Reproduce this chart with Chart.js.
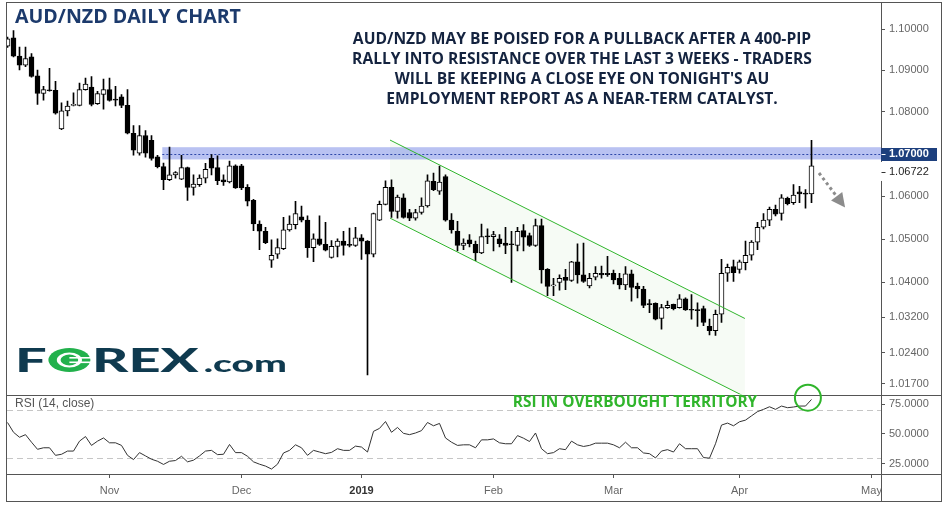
<!DOCTYPE html>
<html>
<head>
<meta charset="utf-8">
<title>AUD/NZD Daily Chart</title>
<script src="https://cdn.jsdelivr.net/npm/chart.js@4.4.1/dist/chart.umd.min.js"></script>
<style>
  html, body { margin: 0; padding: 0; background: #ffffff; }
  canvas { display: block; }
</style>
</head>
<body>
<canvas id="chart" width="944" height="506"></canvas>
<script>
// daily bars from 9 Oct 2018 (index 0) to 17 Apr 2019 (index 134), weekdays only
const open = [
  1.09580, 1.09785, 1.09341, 1.09126, 1.09324, 1.08866, 1.08441, 1.08531, 1.08519, 1.07595,
  1.08024, 1.08158, 1.08158, 1.08535, 1.08597, 1.08196, 1.08418, 1.08535, 1.08300, 1.08361,
  1.08158, 1.07492, 1.07016, 1.07438, 1.07321, 1.06931, 1.06699, 1.06391, 1.06507, 1.06407,
  1.06676, 1.06213, 1.06275, 1.06431, 1.06894, 1.06676, 1.06391, 1.06338, 1.06722, 1.06722,
  1.06213, 1.05906, 1.05354, 1.05186, 1.04515, 1.04651, 1.04781, 1.05216, 1.05338, 1.05522,
  1.05446, 1.04804, 1.05009, 1.04879, 1.04576, 1.04834, 1.04957, 1.04866, 1.04856, 1.05032,
  1.04957, 1.04651, 1.05446, 1.05814, 1.06213, 1.05646, 1.05968, 1.05623, 1.05492, 1.05623,
  1.05775, 1.06352, 1.06120, 1.06468, 1.05446, 1.05186, 1.04856, 1.04986, 1.04879, 1.04683,
  1.05062, 1.05062, 1.05009, 1.04911, 1.04879, 1.04856, 1.05200, 1.05085, 1.04856, 1.05315,
  1.04303, 1.03923, 1.04000, 1.04121, 1.04046, 1.04478, 1.04173, 1.03923, 1.04121, 1.04212,
  1.04212, 1.04212, 1.04098, 1.03946, 1.04196, 1.03910, 1.03849, 1.03496, 1.03518, 1.03173,
  1.03421, 1.03496, 1.03421, 1.03624, 1.03369, 1.03362, 1.03399, 1.02993, 1.02897, 1.03270,
  1.04212, 1.04364, 1.04303, 1.04456, 1.04629, 1.04934, 1.05278, 1.05446, 1.05699, 1.05600,
  1.05952, 1.05853, 1.06106, 1.06060, 1.06060
];
const high = [
  1.09802, 1.09962, 1.09563, 1.09563, 1.09403, 1.09007, 1.08613, 1.09045, 1.08731, 1.08219,
  1.08260, 1.08455, 1.08691, 1.08809, 1.08849, 1.08495, 1.08785, 1.08809, 1.08613, 1.08418,
  1.08535, 1.07672, 1.07672, 1.07555, 1.07438, 1.06970, 1.06785, 1.07164, 1.06583, 1.06970,
  1.06690, 1.06507, 1.06507, 1.06778, 1.06986, 1.06954, 1.06507, 1.06831, 1.06740, 1.06755,
  1.06275, 1.05929, 1.05430, 1.05278, 1.04986, 1.05009, 1.05508, 1.05545, 1.05883, 1.05775,
  1.05545, 1.05124, 1.05545, 1.05393, 1.04970, 1.05009, 1.05186, 1.05262, 1.05278, 1.05108,
  1.04970, 1.05607, 1.05890, 1.06368, 1.06391, 1.06028, 1.06060, 1.05699, 1.05699, 1.05968,
  1.06507, 1.06546, 1.06715, 1.06507, 1.05600, 1.05416, 1.05009, 1.05108, 1.04957, 1.05354,
  1.05239, 1.05186, 1.05108, 1.05278, 1.05186, 1.05278, 1.05338, 1.05140, 1.05469, 1.05469,
  1.04320, 1.04098, 1.04173, 1.04303, 1.04490, 1.04895, 1.04911, 1.04212, 1.04364, 1.04378,
  1.04606, 1.04287, 1.04212, 1.04364, 1.04287, 1.03984, 1.03910, 1.03608, 1.03534, 1.03496,
  1.03572, 1.03504, 1.03721, 1.03646, 1.03721, 1.03534, 1.03460, 1.03158, 1.03369, 1.04531,
  1.04424, 1.04515, 1.04515, 1.04957, 1.04970, 1.05393, 1.05600, 1.05752, 1.05798, 1.06044,
  1.05982, 1.06275, 1.06236, 1.06160, 1.07321
];
const low = [
  1.09551, 1.09324, 1.09007, 1.09086, 1.08833, 1.08182, 1.08283, 1.08495, 1.07946, 1.07578,
  1.07906, 1.08142, 1.08142, 1.08520, 1.08142, 1.08182, 1.08064, 1.08260, 1.08142, 1.08102,
  1.07478, 1.06970, 1.06970, 1.06924, 1.06854, 1.06669, 1.06160, 1.06368, 1.06431, 1.06391,
  1.05906, 1.06028, 1.06236, 1.06315, 1.06507, 1.06275, 1.06259, 1.06315, 1.06185, 1.06160,
  1.05775, 1.05200, 1.04759, 1.04895, 1.04348, 1.04554, 1.04759, 1.05186, 1.05239, 1.05400,
  1.04576, 1.04478, 1.04856, 1.04729, 1.04560, 1.04592, 1.04629, 1.04820, 1.04834, 1.04531,
  1.01894, 1.04592, 1.05430, 1.05800, 1.05508, 1.05492, 1.05492, 1.05430, 1.05446, 1.05584,
  1.05745, 1.06137, 1.06044, 1.05423, 1.05140, 1.04729, 1.04759, 1.04820, 1.04501, 1.04667,
  1.04895, 1.04729, 1.04820, 1.04667, 1.04000, 1.04729, 1.04729, 1.04834, 1.04834, 1.03984,
  1.03698, 1.03698, 1.03820, 1.03833, 1.04023, 1.03984, 1.04000, 1.03872, 1.04059, 1.04098,
  1.04137, 1.03968, 1.03849, 1.03833, 1.03572, 1.03646, 1.03421, 1.03309, 1.03144, 1.02933,
  1.03405, 1.03369, 1.03410, 1.03360, 1.03158, 1.02993, 1.03009, 1.02799, 1.02786, 1.03083,
  1.04023, 1.04023, 1.04212, 1.04287, 1.04515, 1.04759, 1.05239, 1.05315, 1.05545, 1.05446,
  1.05798, 1.05814, 1.05853, 1.05722, 1.05853
];
const close = [
  1.09761, 1.09341, 1.09126, 1.09284, 1.08849, 1.08441, 1.08535, 1.08507, 1.07970, 1.08024,
  1.08142, 1.08172, 1.08535, 1.08668, 1.08182, 1.08441, 1.08535, 1.08276, 1.08283, 1.08158,
  1.07492, 1.07087, 1.07438, 1.07016, 1.06894, 1.06699, 1.06391, 1.06507, 1.06560, 1.06676,
  1.06213, 1.06292, 1.06431, 1.06639, 1.06662, 1.06368, 1.06338, 1.06722, 1.06199, 1.06199,
  1.05890, 1.05354, 1.05186, 1.04918, 1.04629, 1.04804, 1.05216, 1.05354, 1.05600, 1.05446,
  1.04804, 1.05009, 1.04879, 1.04743, 1.04834, 1.04957, 1.04856, 1.04856, 1.05032, 1.04957,
  1.04651, 1.05600, 1.05814, 1.06213, 1.05646, 1.05982, 1.05508, 1.05492, 1.05623, 1.05775,
  1.06368, 1.06160, 1.06338, 1.05446, 1.05216, 1.04856, 1.04911, 1.04895, 1.04683, 1.05062,
  1.05055, 1.05108, 1.04895, 1.04856, 1.04872, 1.05186, 1.05048, 1.04856, 1.05315, 1.04287,
  1.03910, 1.03930, 1.04098, 1.04046, 1.04478, 1.04173, 1.04023, 1.04098, 1.04212, 1.04173,
  1.04180, 1.04059, 1.03946, 1.04196, 1.03887, 1.03849, 1.03473, 1.03490, 1.03158, 1.03421,
  1.03473, 1.03399, 1.03624, 1.03369, 1.03362, 1.03355, 1.03083, 1.02897, 1.03270, 1.04212,
  1.04348, 1.04228, 1.04478, 1.04629, 1.04934, 1.05278, 1.05446, 1.05699, 1.05584, 1.05968,
  1.05830, 1.06028, 1.06060, 1.06053, 1.06722
];
// RSI (14, close)
const rsi = [
  59.7, 51.4, 47.2, 49.4, 43.0, 37.0, 38.3, 38.3, 31.9, 32.8,
  35.5, 35.5, 43.9, 47.8, 40.3, 43.9, 46.6, 42.5, 42.5, 40.3,
  31.9, 28.3, 34.2, 31.4, 28.6, 26.9, 24.2, 26.9, 27.5, 31.1,
  26.4, 27.8, 31.4, 35.5, 36.1, 32.5, 32.8, 41.1, 34.2, 34.2,
  31.1, 26.4, 24.4, 22.8, 20.3, 24.4, 33.9, 36.1, 40.8, 38.3,
  31.9, 36.1, 34.7, 33.3, 34.4, 37.5, 36.1, 36.1, 39.7, 38.9,
  34.7, 52.2, 54.7, 60.5, 51.4, 55.5, 50.5, 49.4, 50.8, 52.8,
  59.7, 56.9, 58.9, 46.6, 43.0, 40.3, 40.8, 40.8, 38.3, 45.0,
  45.0, 45.8, 42.5, 41.7, 41.7, 48.6, 46.4, 43.6, 50.8, 37.5,
  33.3, 34.2, 37.5, 36.7, 43.9, 40.8, 39.4, 40.3, 42.2, 42.2,
  42.2, 40.8, 38.3, 43.0, 38.3, 38.3, 33.9, 33.3, 29.7, 35.5,
  36.7, 34.7, 41.7, 37.5, 37.5, 37.5, 30.0, 29.5, 41.7, 57.5,
  59.2, 56.9, 60.3, 61.7, 65.3, 68.9, 70.8, 73.0, 70.8, 73.6,
  72.2, 72.8, 73.6, 73.6, 79.2
];

// bar index of the first session of each month
const monthStart = [17, 39, 59, 81, 101, 122, 144];
const monthNames = ['Nov', 'Dec', '2019', 'Feb', 'Mar', 'Apr', 'May'];

const priceTicks = [1.017, 1.024, 1.032, 1.04, 1.05, 1.06, 1.08, 1.09, 1.10];
const rsiTicks = [25, 50, 75];
const rsiGuides = [30, 70];

// drawings, in bar index / price units
const resistanceLevel = 1.07;
const resistanceBand = [1.0687, 1.0716];
const bandFrom = 25.8;
const channelX = [63.75, 122.9];
const channelTop = [1.0733, 1.03174];
const channelBottom = [1.05492, 1.01405];
const arrowFrom = [135.25, 1.0655];
const arrowTo = [139.6, 1.0574];
const rsiCircle = [133.4, 80.7];

const title = 'AUD/NZD DAILY CHART';
const note = [
  'AUD/NZD MAY BE POISED FOR A PULLBACK AFTER A 400-PIP',
  'RALLY INTO RESISTANCE OVER THE LAST 3 WEEKS - TRADERS',
  "WILL BE KEEPING A CLOSE EYE ON TONIGHT'S AU",
  'EMPLOYMENT REPORT AS A NEAR-TERM CATALYST.'
];
const rsiNote = 'RSI IN OVERBOUGHT TERRITORY';

const idx = close.map((_, i) => i);
const lastClose = close[close.length - 1];
const green = '#30b52c';
const axisFont = '"Liberation Sans", Arial, sans-serif';

function drawLogo(ctx) {
  const navy = '#0f3a4f', leaf = '#22b14c';
  const big = '900 33px Lato, "DejaVu Sans", sans-serif';
  const small = '900 23px Lato, "DejaVu Sans", sans-serif';
  ctx.font = big;
  const wF = ctx.measureText('F').width;
  const wO = ctx.measureText('O').width;
  const wR = ctx.measureText('REX').width;
  ctx.font = small;
  const wc = ctx.measureText('.com').width;
  const sx = 272 / (wF + wO + wR + 3 + wc);
  ctx.save();
  ctx.translate(15, 372);
  ctx.scale(sx, 1);
  ctx.textAlign = 'left';
  ctx.textBaseline = 'alphabetic';
  ctx.font = big;
  ctx.fillStyle = navy;
  ctx.fillText('F', 0, 0);
  // the green "O" with its plug
  const cx = wF + wO / 2, cy = -12, rx = wO / 2 - 1, ry = 12;
  ctx.fillStyle = leaf;
  ctx.beginPath(); ctx.ellipse(cx, cy, rx, ry, 0, 0, Math.PI * 2); ctx.fill();
  ctx.fillStyle = '#fff';
  ctx.beginPath(); ctx.ellipse(cx, cy, rx * 0.6, ry * 0.62, 0, 0, Math.PI * 2); ctx.fill();
  ctx.fillStyle = leaf;
  ctx.beginPath(); ctx.ellipse(cx, cy, rx * 0.42, ry * 0.45, 0, 0, Math.PI * 2); ctx.fill();
  ctx.fillStyle = '#fff';
  ctx.fillRect(cx, cy - 3, rx + 1, 1.6);
  ctx.fillRect(cx, cy + 1.5, rx + 1, 1.6);
  ctx.fillStyle = navy;
  ctx.fillText('REX', wF + wO, 0);
  ctx.font = small;
  ctx.fillText('.com', wF + wO + wR + 3, 0);
  ctx.restore();
}

const overlay = {
  id: 'overlay',
  beforeDatasetsDraw(chart) {
    const { ctx, chartArea: a, scales: { x, y, rsi: r } } = chart;
    ctx.save();
    // RSI 30 / 70 guides
    ctx.strokeStyle = '#c6c6c6';
    ctx.lineWidth = 1;
    ctx.setLineDash([6, 4]);
    rsiGuides.forEach(v => {
      const py = Math.round(r.getPixelForValue(v)) + 0.5;
      ctx.beginPath(); ctx.moveTo(a.left, py); ctx.lineTo(a.right, py); ctx.stroke();
    });
    ctx.setLineDash([]);
    // price panel only
    ctx.beginPath();
    ctx.rect(a.left, y.top, a.right - a.left, y.bottom - y.top);
    ctx.clip();
    // channel shading
    const x0 = x.getPixelForValue(channelX[0]), x1 = x.getPixelForValue(channelX[1]);
    ctx.fillStyle = 'rgba(100,180,80,0.06)';
    ctx.beginPath();
    ctx.moveTo(x0, y.getPixelForValue(channelTop[0]));
    ctx.lineTo(x1, y.getPixelForValue(channelTop[1]));
    ctx.lineTo(x1, y.getPixelForValue(channelBottom[1]));
    ctx.lineTo(x0, y.getPixelForValue(channelBottom[0]));
    ctx.closePath();
    ctx.fill();
    // resistance band
    const bx = x.getPixelForValue(bandFrom);
    const bt = y.getPixelForValue(resistanceBand[1]), bb = y.getPixelForValue(resistanceBand[0]);
    ctx.fillStyle = 'rgba(60,85,220,0.36)';
    ctx.fillRect(bx, bt, a.right - bx, bb - bt);
    const ly = Math.round(y.getPixelForValue(resistanceLevel)) + 0.5;
    ctx.strokeStyle = '#2d47a8';
    ctx.setLineDash([2, 2]);
    ctx.beginPath(); ctx.moveTo(bx, ly); ctx.lineTo(a.right, ly); ctx.stroke();
    ctx.restore();
  },
  afterDatasetsDraw(chart) {
    const { ctx, chartArea: a, scales: { x, y } } = chart;
    ctx.save();
    ctx.beginPath();
    ctx.rect(a.left, y.top, a.right - a.left, y.bottom - y.top);
    ctx.clip();
    // channel lines
    ctx.strokeStyle = green;
    ctx.lineWidth = 1;
    [channelTop, channelBottom].forEach(line => {
      ctx.beginPath();
      ctx.moveTo(x.getPixelForValue(channelX[0]), y.getPixelForValue(line[0]));
      ctx.lineTo(x.getPixelForValue(channelX[1]), y.getPixelForValue(line[1]));
      ctx.stroke();
    });
    // dotted arrow
    const ax0 = x.getPixelForValue(arrowFrom[0]), ay0 = y.getPixelForValue(arrowFrom[1]);
    const ax1 = x.getPixelForValue(arrowTo[0]), ay1 = y.getPixelForValue(arrowTo[1]);
    const len = Math.hypot(ax1 - ax0, ay1 - ay0);
    const ux = (ax1 - ax0) / len, uy = (ay1 - ay0) / len;
    const hx = ax1 - ux * 14, hy = ay1 - uy * 14;
    ctx.strokeStyle = '#8c8c8c';
    ctx.fillStyle = '#8c8c8c';
    ctx.lineWidth = 3;
    ctx.setLineDash([3, 3]);
    ctx.beginPath(); ctx.moveTo(ax0, ay0); ctx.lineTo(hx - ux * 2, hy - uy * 2); ctx.stroke();
    ctx.setLineDash([]);
    ctx.beginPath();
    ctx.moveTo(ax1, ay1);
    ctx.lineTo(hx - uy * 7, hy + ux * 7);
    ctx.lineTo(hx + uy * 7, hy - ux * 7);
    ctx.closePath();
    ctx.fill();
    ctx.restore();
  },
  afterDraw(chart) {
    const { ctx, chartArea: a, scales: { x, y, rsi: r } } = chart;
    const W = chart.width, H = chart.height;
    ctx.save();
    // frame and panel separators
    ctx.strokeStyle = '#555';
    ctx.lineWidth = 1;
    ctx.strokeRect(6.5, 2.5, W - 9, H - 7);
    const xr = Math.round(a.right) + 0.5;
    [y.bottom, r.bottom].forEach(v => {
      const py = Math.round(v) + 0.5;
      ctx.beginPath(); ctx.moveTo(6.5, py); ctx.lineTo(W - 2.5, py); ctx.stroke();
    });
    ctx.beginPath(); ctx.moveTo(xr, 2.5); ctx.lineTo(xr, H - 4.5); ctx.stroke();

    // highlighted price labels
    ctx.textAlign = 'left';
    ctx.textBaseline = 'middle';
    const y107 = y.getPixelForValue(resistanceLevel);
    ctx.fillStyle = '#1d3f7d';
    ctx.fillRect(a.right, Math.round(y107) - 6, 56, 13);
    ctx.strokeStyle = '#ffffff';
    ctx.beginPath(); ctx.moveTo(xr, Math.round(y107) + 0.5); ctx.lineTo(xr + 4, Math.round(y107) + 0.5); ctx.stroke();
    ctx.fillStyle = '#ffffff';
    ctx.font = 'bold 11px ' + axisFont;
    ctx.fillText(resistanceLevel.toFixed(5), a.right + 8, y107 + 0.5);
    const yl = Math.max(y.getPixelForValue(lastClose), y107 + 18);
    ctx.fillStyle = '#ffffff';
    ctx.fillRect(a.right - 1, yl - 10, 58, 19);
    ctx.strokeStyle = '#333';
    ctx.beginPath(); ctx.moveTo(xr, Math.round(yl) + 0.5); ctx.lineTo(xr + 4, Math.round(yl) + 0.5); ctx.stroke();
    ctx.fillStyle = '#222';
    ctx.font = '11px ' + axisFont;
    ctx.fillText(lastClose.toFixed(5), a.right + 8, yl + 0.5);

    // title and commentary
    ctx.fillStyle = '#1c3a6c';
    ctx.font = 'bold 19.6px "Open Sans", sans-serif';
    ctx.fillText(title, 15, 17);
    ctx.fillStyle = '#14233f';
    ctx.font = 'bold 15.6px "Open Sans", sans-serif';
    ctx.textAlign = 'center';
    note.forEach((t, k) => ctx.fillText(t, 582, 40 + k * 20));

    // RSI panel texts
    ctx.textAlign = 'left';
    ctx.fillStyle = '#555';
    ctx.font = '12px ' + axisFont;
    ctx.fillText('RSI (14, close)', 15, 404);
    ctx.textAlign = 'center';
    ctx.fillStyle = green;
    ctx.font = 'bold 15.4px "Open Sans", sans-serif';
    ctx.fillText(rsiNote, 635, 403);
    ctx.strokeStyle = green;
    ctx.lineWidth = 2;
    ctx.beginPath();
    ctx.arc(x.getPixelForValue(rsiCircle[0]), r.getPixelForValue(rsiCircle[1]), 13, 0, Math.PI * 2);
    ctx.stroke();
    ctx.restore();

    drawLogo(ctx);
  }
};

new Chart(document.getElementById('chart'), {
  type: 'bar',
  data: {
    datasets: [
      {
        type: 'line',
        label: 'RSI',
        data: idx.map(i => ({ x: i, y: rsi[i] })),
        xAxisID: 'x',
        yAxisID: 'rsi',
        borderColor: '#333333',
        borderWidth: 1,
        pointRadius: 0,
        tension: 0,
        order: 0
      },
      {
        label: 'body',
        data: idx.map(i => ({ x: i, y: [open[i], close[i]] })),
        xAxisID: 'x',
        yAxisID: 'y',
        grouped: false,
        barThickness: 5,
        minBarLength: 1,
        backgroundColor: idx.map(i => close[i] >= open[i] ? '#ffffff' : '#000000'),
        borderColor: '#000000',
        borderWidth: 1,
        borderSkipped: false,
        order: 1
      },
      {
        label: 'wick',
        data: idx.map(i => ({ x: i, y: [low[i], high[i]] })),
        xAxisID: 'x',
        yAxisID: 'y',
        grouped: false,
        barThickness: 1,
        minBarLength: 1,
        backgroundColor: '#000000',
        borderWidth: 0,
        order: 2
      }
    ]
  },
  options: {
    responsive: false,
    animation: false,
    layout: { padding: { left: 7, right: 2, top: 3, bottom: 4 } },
    plugins: { legend: { display: false }, tooltip: { enabled: false } },
    scales: {
      x: {
        type: 'linear',
        position: 'bottom',
        offset: false,
        bounds: 'data',
        min: -1 / 12,
        max: -1 / 12 + 874 / 6,
        afterBuildTicks: s => { s.ticks = monthStart.map(v => ({ value: v })); },
        afterFit: s => { s.height = 28; },
        grid: { offset: false, drawOnChartArea: false, drawTicks: true, tickLength: 4, color: '#555' },
        border: { display: false },
        ticks: {
          autoSkip: false,
          maxRotation: 0,
          padding: 6,
          color: ctx => (ctx.tick && ctx.tick.value === 59) ? '#333' : '#666',
          font: ctx => ({ family: axisFont, size: 11, weight: (ctx.tick && ctx.tick.value === 59) ? 'bold' : 'normal' }),
          callback: v => monthNames[monthStart.indexOf(v)]
        }
      },
      y: {
        type: 'logarithmic',
        position: 'right',
        stack: 'panes',
        stackWeight: 4.836,
        bounds: 'data',
        beginAtZero: false,
        min: 1.01451,
        max: 1.10449,
        afterBuildTicks: s => { s.ticks = priceTicks.map(v => ({ value: v })); },
        afterFit: s => { s.width = 61; },
        grid: { drawOnChartArea: false, drawTicks: true, tickLength: 4, color: '#555' },
        border: { display: false },
        ticks: {
          autoSkip: false,
          padding: 4,
          color: '#666',
          font: { family: axisFont, size: 11 },
          callback: v => Number(v).toFixed(5)
        }
      },
      rsi: {
        type: 'linear',
        axis: 'y',
        position: 'right',
        stack: 'panes',
        stackWeight: 1,
        bounds: 'data',
        min: 16.1,
        max: 83.3,
        afterBuildTicks: s => { s.ticks = rsiTicks.map(v => ({ value: v })); },
        afterFit: s => { s.width = 61; },
        grid: { drawOnChartArea: false, drawTicks: true, tickLength: 4, color: '#555' },
        border: { display: false },
        ticks: {
          autoSkip: false,
          padding: 4,
          color: '#666',
          font: { family: axisFont, size: 11 },
          callback: v => Number(v).toFixed(4)
        }
      }
    }
  },
  plugins: [overlay]
});
</script>
</body>
</html>
